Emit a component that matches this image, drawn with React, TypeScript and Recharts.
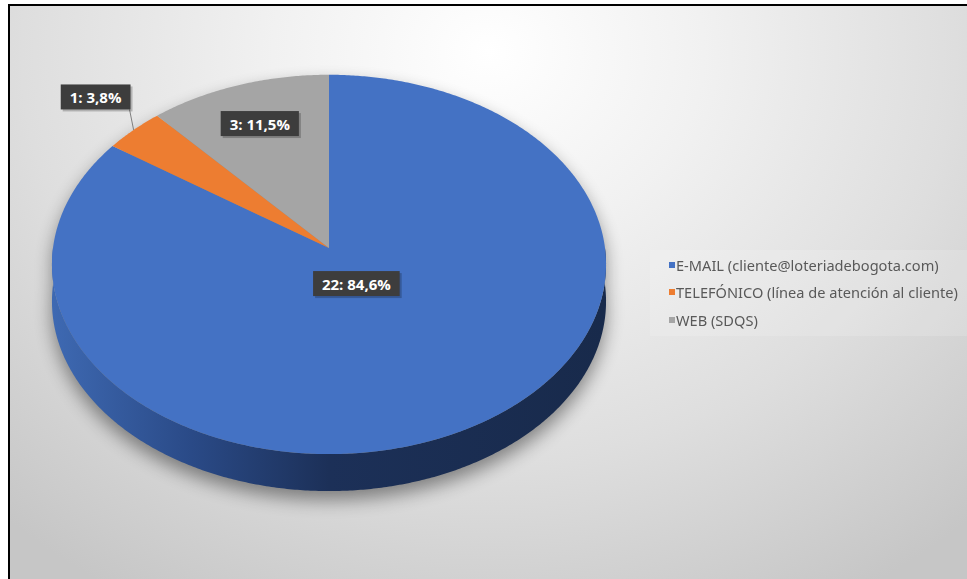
import React from 'react';
import { PieChart, Pie, Cell, Legend } from 'recharts';

const categories = [
  'E-MAIL (cliente@loteriadebogota.com)',
  'TELEFÓNICO (línea de atención al cliente)',
  'WEB (SDQS)',
];
const counts = [22, 1, 3];
const percentLabels = ['84,6%', '3,8%', '11,5%'];
const colors = ['#4472C4', '#ED7D31', '#A5A5A5'];

const data = categories.map((name, i) => ({ name, value: counts[i], pct: percentLabels[i] }));

// 3D perspective look (styles, not data)
const K_Y = 0.682; // vertical squash
const PERSP = 0.0866; // perspective strength
const DEPTH = 37;
const RAD = Math.PI / 180;

// label layout: inside radius fraction or outside offset
const labelLayout = [
  { inside: true, f: 0.21 },
  { inside: false, dx: -38, dy: -33 },
  { inside: true, f: 0.75 },
];

function pt(cx: number, cy: number, r: number, a: number, dy = 0, f = 1): [number, number] {
  const u = f * Math.cos(a * RAD);
  const w = f * Math.sin(a * RAD);
  const d = 1 + PERSP * w;
  return [cx + (r * u) / d, cy - (r * K_Y * w) / d + dy];
}

function arc(cx: number, cy: number, r: number, a1: number, a2: number, dy = 0) {
  const n = Math.max(2, Math.ceil(Math.abs(a2 - a1) / 0.5));
  const out: [number, number][] = [];
  for (let i = 0; i <= n; i++) {
    out.push(pt(cx, cy, r, a1 + ((a2 - a1) * i) / n, dy));
  }
  return out;
}

const toPath = (pts: [number, number][]) =>
  pts.map((p, i) => `${i === 0 ? 'M' : 'L'}${p[0].toFixed(2)},${p[1].toFixed(2)}`).join(' ');

function Slice3D(props: any) {
  const { cx, cy, outerRadius: r, startAngle, endAngle, fill, index } = props;
  const lo = Math.min(startAngle, endAngle);
  const hi = Math.max(startAngle, endAngle);
  const walls: string[] = [];
  for (const k of [-720, -360, 0, 360]) {
    const a = Math.max(lo, -180 + k);
    const b = Math.min(hi, 0 + k);
    if (b > a) {
      const top = arc(cx, cy, r, a, b, 0);
      const bot = arc(cx, cy, r, b, a, DEPTH);
      walls.push(toPath([...top, ...bot]) + ' Z');
    }
  }
  const face = toPath([[cx, cy], ...arc(cx, cy, r, startAngle, endAngle)]) + ' Z';
  const silhouette =
    toPath([...arc(cx, cy, r, 0, 180), ...arc(cx, cy, r, 180, 360, DEPTH)]) + ' Z';
  const gid = `wallGrad${index}`;
  return (
    <g>
      <defs>
        <linearGradient id={gid} gradientUnits="userSpaceOnUse" x1={cx - r} y1={0} x2={cx + r} y2={0}>
          <stop offset="0" stopColor="#3e69b2" />
          <stop offset="0.25" stopColor="#2a4a87" />
          <stop offset="0.5" stopColor="#1c3058" />
          <stop offset="1" stopColor="#182a4b" />
        </linearGradient>
        <filter id="pieShadow" x="-20%" y="-20%" width="140%" height="140%">
          <feGaussianBlur stdDeviation="9" />
        </filter>
      </defs>
      {index === 0 && (
        <path d={silhouette} fill="#000" opacity={0.42} transform="translate(0,9)" filter="url(#pieShadow)" />
      )}
      {walls.map((d, i) => (
        <path key={i} d={d} fill={`url(#${gid})`} />
      ))}
      <path d={face} fill={fill} />
    </g>
  );
}

function renderLabel(props: any) {
  const { cx, cy, outerRadius, midAngle, index } = props;
  const lay = labelLayout[index];
  const text = `${counts[index]}: ${percentLabels[index]}`;
  const w = text.length * 8.4 + 11;
  const h = 25;
  let x: number;
  let y: number;
  let line: React.ReactNode = null;
  if (lay.inside) {
    [x, y] = pt(cx, cy, outerRadius, midAngle, 0, lay.f as number);
  } else {
    const [ex, ey] = pt(cx, cy, outerRadius, midAngle);
    x = ex + (lay.dx as number);
    y = ey + (lay.dy as number);
    line = <line x1={ex} y1={ey} x2={x + w / 2 - 1} y2={y + h / 2} stroke="#7f7f7f" strokeWidth={1} />;
  }
  return (
    <g key={`lbl${index}`}>
      {line}
      <rect x={x - w / 2 + 2} y={y - h / 2 + 2} width={w} height={h} fill="#000" opacity={0.22} />
      <rect x={x - w / 2} y={y - h / 2} width={w} height={h} fill="#3d3d3d" />
      <text
        x={x}
        y={y}
        textAnchor="middle"
        dominantBaseline="central"
        fill="#ffffff"
        fontFamily="'Open Sans', sans-serif"
        fontWeight={700}
        fontSize={15}
      >
        {text}
      </text>
    </g>
  );
}

function LegendContent(props: any) {
  const payload = props.payload || [];
  return (
    <div style={{ background: 'rgba(255,255,255,0.15)', paddingTop: 1, paddingBottom: 2 }}>
      {payload.map((p: any, i: number) => (
        <div
          key={i}
          style={{
            height: 27.5,
            display: 'flex',
            alignItems: 'center',
            paddingLeft: 19,
            fontFamily: "'Noto Sans', sans-serif",
            fontSize: 14.6,
            color: '#595959',
            whiteSpace: 'nowrap',
          }}
        >
          <span style={{ width: 6, height: 6, background: p.color, display: 'inline-block', marginRight: 1 }} />
          <span>{p.value}</span>
        </div>
      ))}
    </div>
  );
}

export default function App() {
  return (
    <div
      style={{
        position: 'fixed',
        left: 8,
        top: 4,
        width: 959,
        height: 575,
        boxSizing: 'border-box',
        borderTop: '2px solid #000',
        borderLeft: '2px solid #000',
        background: 'radial-gradient(ellipse 75% 110% at 50% 8%, #ffffff 0%, #f1f1f1 30%, #dedede 65%, #c6c6c6 100%)',
        overflow: 'hidden',
      }}
    >
      <PieChart width={957} height={573} margin={{ top: 0, right: 0, bottom: 0, left: 0 }}>
        <Pie
          data={data}
          dataKey="value"
          nameKey="name"
          cx={319}
          cy={242}
          outerRadius={276}
          startAngle={90}
          endAngle={-270}
          stroke="none"
          shape={Slice3D}
          label={renderLabel}
          labelLine={false}
          isAnimationActive={false}
        >
          {data.map((d, i) => (
            <Cell key={d.name} fill={colors[i]} />
          ))}
        </Pie>
        <Legend
          layout="vertical"
          content={LegendContent}
          wrapperStyle={{ position: 'absolute', left: 640, top: 244, width: 317 }}
        />
      </PieChart>
    </div>
  );
}
